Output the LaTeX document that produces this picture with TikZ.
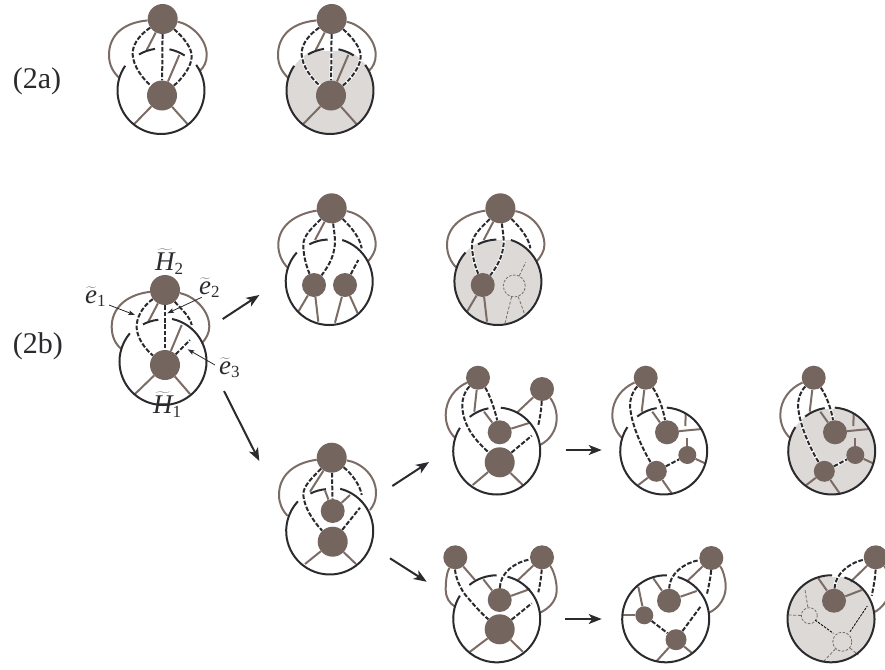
\documentclass[tikz,border=0pt]{standalone}
\usepackage{fontspec}
\setmainfont{Liberation Serif}
\usetikzlibrary{arrows.meta}
\definecolor{blobc}{HTML}{75655F}
\definecolor{grayc}{HTML}{7B6C66}
\definecolor{inkc}{HTML}{2B2A2E}
\definecolor{shadec}{HTML}{DDD9D6}
\tikzset{
  blobL/.style={circle,fill=blobc,draw=none,inner sep=0pt,minimum size=30pt},
  blobM/.style={circle,fill=blobc,draw=none,inner sep=0pt,minimum size=24pt},
  blobN/.style={circle,fill=blobc,draw=none,inner sep=0pt,minimum size=21pt},
  blobS/.style={circle,fill=blobc,draw=none,inner sep=0pt,minimum size=18pt},
  ghost/.style={circle,draw=grayc,line width=0.8pt,dash pattern=on 2.5pt off 1.5pt,inner sep=0pt},
  grayl/.style={draw=grayc,line width=2pt},
  inkl/.style={draw=inkc,line width=2pt},
  dashl/.style={draw=inkc,line width=2pt,dash pattern=on 4.6pt off 1.8pt,
    preaction={draw=white,line width=3.2pt,solid}},
  thinblack/.style={draw=black,line width=0.8pt,dash pattern=on 2.5pt off 1.2pt},
  thingray/.style={draw=grayc,line width=0.8pt,dash pattern=on 3pt off 1.8pt},
  bigarrow/.style={draw=inkc,line width=2pt,-{Stealth[length=13pt,width=10pt,inset=3.5pt]}},
  smallarrow/.style={draw=inkc,line width=0.8pt,-{Stealth[length=6.5pt,width=4.5pt,inset=1pt]}},
  lab/.style={anchor=base west,inner sep=0pt,text=inkc},
}
\newcommand{\Xgto}[2]{\coordinate (fe) at (#2); \draw[grayl] (#1) -- (fe);}
\newcommand{\Xgfree}[2]{\coordinate (fa) at (#1); \coordinate (fe) at (#2); \draw[grayl] (fa) -- (fe);}
\newcommand{\Xdto}[2]{\coordinate (fe) at (#2); \draw[dashl] (#1) -- (fe);}
\newcommand{\Xtg}[2]{\coordinate (fe) at (#2); \draw[thingray] (#1) -- (fe);}
\newcommand{\Xtb}[2]{\coordinate (fa) at (#1); \coordinate (fe) at (#2); \draw[thinblack] (fa) -- (fe);}
\newcommand{\Xarc}[4]{\draw[inkl] (#1,#2) ++(#3:43.5) arc[start angle=#3,end angle=#4,radius=43.5];}
\newcommand{\Xdisk}[3]{\begin{scope}\clip (#1-50,#3) rectangle (#1+50,#2+50);
  \fill[shadec] (#1,#2) circle[radius=43.5];\end{scope}}
\newcommand{\Xarrow}[3]{\coordinate (#1a) at (#2); \coordinate (#1b) at (#3); \draw[bigarrow] (#1a) -- (#1b);}
\newcommand{\Xsmall}[3]{\coordinate (#1a) at (#2); \coordinate (#1b) at (#3); \draw[smallarrow] (#1a) -- (#1b);}
\newcommand{\Xtl}[1]{$\widetilde{\hbox{\itshape #1}}$}
\newcommand{\Xsz}[1]{\fontsize{#1}{#1}\selectfont}
\newcommand{\figA}[2]{\begin{scope}[xshift=#2pt]
  \node[blobL] (#1t) at (162.7,19) {};
  \node[blobL] (#1b) at (162,95.5) {};
  \draw[grayl] (#1t) .. controls (120,23) and (109,38) .. (109,55) .. controls (109,65) and (113,72) .. (119.3,78);
  \draw[grayl] (#1t) .. controls (190,24) and (206.7,38) .. (206.7,55) .. controls (206.7,62) and (204,67) .. (200,70.7);
  \Xgto{#1t}{146.7,50}
  \Xgto{#1b}{179.3,55}
  \Xgto{#1b}{133.3,125}
  \Xgto{#1b}{188.3,125}
  \draw[dashl] (#1t) .. controls (138,36) and (132,46) .. (132.7,55) .. controls (133.5,66) and (142,78) .. (#1b);
  \draw[dashl] (#1t) .. controls (184,38) and (192,48) .. (191.7,56.7) .. controls (191.5,66) and (183,78) .. (#1b);
  \draw[dashl] (#1t) -- (#1b);
  \Xarc{161}{90.5}{-36}{214.6}
  \Xarc{161}{92}{-120.4}{-98}
  \Xarc{161}{92}{-78.8}{-57}
\end{scope}}
\newcommand{\figB}[2]{\begin{scope}[xshift=#2pt]
  \node[blobL] (#1t) at (331.7,208.3) {};
  \node[blobM] (#1l) at (314,285) {};
  \draw[grayl] (#1t) .. controls (295,214) and (278.3,226) .. (278.3,245) .. controls (278.3,254) and (282,262) .. (287.7,267.7);
  \draw[grayl] (#1t) .. controls (362,214) and (375.7,228) .. (375.7,245) .. controls (375.7,251) and (372,257) .. (367.7,261.7);
  \Xgto{#1t}{315,240}
  \Xgto{#1l}{298.3,311.7}
  \Xgto{#1l}{318.3,321.7}
  \draw[dashl] (#1t) .. controls (312,228) and (303,236) .. (303.3,245) .. controls (303.5,256) and (306,265) .. (#1l);
  \draw[dashl] (#1t) .. controls (334,232) and (336,240) .. (334.3,248.3) .. controls (333,258) and (328,267) .. (#1l);
  \draw[dashl] (#1t) .. controls (352,228) and (360,238) .. (361.7,248.3);
  \Xarc{329.2}{281.5}{-72.6}{221.8}
  \Xarc{329.2}{283}{-117.2}{-92}
\end{scope}}
\newcommand{\figC}[2]{\begin{scope}[xshift=#2pt]
  \node[blobM] (#1t) at (645.7,377.7) {};
  \node[blobM] (#1m) at (667,432.3) {};
  \node[blobN] (#1o) at (656.3,471.3) {};
  \node[blobS] (#1r) at (687.3,455) {};
  \draw[grayl] (#1t) .. controls (622,388) and (612.3,400) .. (612.3,415) .. controls (612.3,424) and (616,432) .. (621.7,437.7);
  \Xgto{#1t}{641.7,411.7}
  \Xgto{#1m}{652.3,411.7}
  \Xgto{#1m}{701.7,429}
  \Xgfree{685.7,414}{685.3,426}
  \Xgto{#1r}{687.3,438.3}
  \Xgto{#1r}{705,463.3}
  \Xgto{#1o}{638.3,485}
  \Xgto{#1o}{672.3,494.3}
  \draw[dashl] (#1t) .. controls (632,392) and (628.5,402) .. (630.7,411.7) .. controls (633,428) and (643,450) .. (#1o);
  \draw[dashl] (#1t) .. controls (658,395) and (663,408) .. (#1m);
  \draw[dashl] (#1o) -- (#1r);
  \Xarc{663.7}{451}{-86}{213.4}
  \Xarc{663.7}{451}{-127.6}{-99.3}
\end{scope}}
\begin{document}
\begin{tikzpicture}[x=1pt,y=-1pt]
\useasboundingbox (0,0) rectangle (885,669);
\figA{aa}{0}
\Xdisk{330.3}{90.5}{51.5}
\figA{ab}{169}
\node[lab] (t2a) at (12.7,88) {\Xsz{30}(2a)};
\node[lab] (t2b) at (12.7,353) {\Xsz{30}(2b)};
\node[blobL] (ct) at (165,290) {};
\node[blobL] (cb) at (165,365) {};
\draw[grayl] (ct) .. controls (124,295) and (111.7,310) .. (111.7,326.7) .. controls (111.7,336) and (115,344) .. (121.7,349.3);
\draw[grayl] (ct) .. controls (194,296) and (209.3,310) .. (209.3,326.7) .. controls (209.3,333) and (206,339) .. (201.7,343.3);
\Xgto{ct}{148.3,321.7}
\Xgto{cb}{181.7,325}
\Xgto{cb}{135,394}
\Xgto{cb}{190,394}
\draw[dashl] (ct) .. controls (142,307) and (136,318) .. (136.7,328.3) .. controls (137.5,339) and (146,350) .. (cb);
\draw[dashl] (ct) .. controls (180,308) and (190,316) .. (191.7,325);
\Xdto{cb}{190,340}
\draw[dashl] (ct) -- (cb);
\Xarc{163}{361.5}{-78}{220.4}
\Xarc{163}{363}{-117.4}{-96.2}
\node[lab] (H2) at (155,270) {\Xsz{27}\Xtl{H}\hbox{\Xsz{17}\raisebox{-4pt}{2}}};
\node[lab] (H1) at (153,413) {\Xsz{27}\Xtl{H}\hbox{\Xsz{17}\raisebox{-4pt}{1}}};
\node[lab] (e1) at (85,303) {\Xsz{27}\Xtl{e}\hbox{\Xsz{17}\raisebox{-3pt}{1}}};
\node[lab] (e2) at (199,294) {\Xsz{27}\Xtl{e}\hbox{\Xsz{17}\raisebox{-3pt}{2}}};
\node[lab] (e3) at (219,374) {\Xsz{27}\Xtl{e}\hbox{\Xsz{17}\raisebox{-3pt}{3}}};
\Xsmall{s1}{109,305}{135,315}
\Xsmall{s2}{201.7,297.3}{167.3,313.3}
\Xsmall{s3}{215,365}{187.7,349.3}
\Xarrow{A}{222.7,319}{259.3,295}
\Xarrow{B}{224,391}{259.3,461}
\Xarrow{C}{392.3,486}{429,462}
\Xarrow{D}{390,558.3}{426.7,581.7}
\Xarrow{E}{565.7,450}{601.7,450}
\Xarrow{F}{565,619}{601.7,619}
\figB{ba}{0}
\node[blobM] (bar) at (345,285) {};
\Xgto{bar}{335,322.7}
\Xgto{bar}{357.7,313.3}
\Xdto{bar}{358.3,260}
\Xdisk{497.9}{281.5}{240.5}
\figB{bb}{168.7}
\node[ghost,minimum size=22pt] (bbg) at (514.3,286) {};
\Xtg{bbg}{525.7,262.3}
\Xtg{bbg}{505,323.3}
\Xtg{bbg}{524.3,313.3}
\node[blobL] (dt) at (331.7,457.7) {};
\node[blobM] (dm) at (332.7,511) {};
\node[blobL] (db) at (332.7,541.7) {};
\draw[grayl] (dt) .. controls (293,463) and (279,476) .. (279,495) .. controls (279,503) and (282,510) .. (287.7,516);
\draw[grayl] (dt) .. controls (362,463) and (376,476) .. (376,493) .. controls (376,500) and (374,505) .. (370,510);
\Xgto{dt}{310,491.7}
\Xgto{dm}{325,490.5}
\Xgto{dm}{350,495}
\Xgto{db}{305,564}
\Xgto{db}{356,564}
\draw[dashl] (dt) .. controls (312,478) and (303,486) .. (303.3,495) .. controls (304,506) and (312,520) .. (db);
\draw[dashl] (dt) .. controls (352,474) and (360,485) .. (361.7,495);
\Xdto{db}{360,507.7}
\draw[dashl] (dt) -- (dm);
\Xarc{329.7}{531}{-76}{223}
\Xarc{329.7}{532.5}{-116.3}{-95}
\node[blobM] (et) at (478,377.7) {};
\node[blobM] (er) at (542,389) {};
\node[blobM] (em) at (499.7,432.3) {};
\node[blobL] (eb) at (499.7,462.3) {};
\draw[grayl] (et) .. controls (455,388) and (445.7,400) .. (445.7,415) .. controls (445.7,424) and (449,432) .. (455,437.7);
\draw[grayl] (er) .. controls (552,400) and (556.7,408) .. (556.7,418.3) .. controls (556.7,430) and (550,440) .. (540,445);
\Xgto{et}{474.3,411.7}
\Xgto{em}{484,411.7}
\Xgto{er}{517.3,412.3}
\Xgto{em}{530,422.7}
\Xgto{eb}{472.7,485}
\Xgto{eb}{522.7,485}
\draw[dashl] (et) .. controls (464,392) and (461,402) .. (462.7,411) .. controls (465,428) and (476,441) .. (eb);
\draw[dashl] (et) .. controls (489,393) and (495,410) .. (em);
\draw[dashl] (er) .. controls (541.5,408) and (540,418) .. (538.3,425);
\Xdto{eb}{531.7,435.7}
\Xarc{496.7}{451}{-84.6}{212.2}
\Xarc{496.7}{451}{-128.4}{-101}
\figC{fa}{0}
\Xdisk{831.7}{451}{409}
\figC{fb}{168}
\node[blobM] (gl) at (455.3,557.3) {};
\node[blobM] (gr) at (542,557.3) {};
\node[blobM] (gm) at (499.7,600) {};
\node[blobL] (gb) at (499.7,629.3) {};
\draw[grayl] (gl) .. controls (447,572) and (445.7,580) .. (445.7,590) .. controls (445.7,597) and (449,603) .. (455,606.7);
\draw[grayl] (gr) .. controls (552,568) and (556.7,578) .. (556.7,590) .. controls (556.7,600) and (550,608) .. (540,612.7);
\Xgto{gl}{475,580}
\Xgto{gm}{483.3,579.3}
\Xgto{gr}{517.3,580.7}
\Xgto{gm}{530,589}
\Xgto{gb}{470,651.7}
\Xgto{gb}{522.7,651.7}
\draw[dashl] (gl) .. controls (455,575) and (460,590) .. (468,598) .. controls (474,605) and (480,612) .. (gb);
\draw[dashl] (gm) .. controls (500,573) and (515,562) .. (gr);
\draw[dashl] (gr) .. controls (541.5,575) and (540,585) .. (538.3,592.3);
\Xdto{gb}{531.7,603.3}
\Xarc{496.7}{618.8}{-75.7}{212.2}
\Xarc{496.7}{618.8}{-128.9}{-90}
\node[blobM] (hr) at (711.3,558) {};
\node[blobM] (hm) at (669,600.7) {};
\node[blobS] (hl) at (644.3,615.3) {};
\node[blobN] (ho) at (676,639.7) {};
\draw[grayl] (hr) .. controls (722,568) and (725.7,578) .. (725.7,586.7) .. controls (725.7,598) and (719,608) .. (709,612.7);
\Xgto{hl}{638.3,586.7}
\Xgto{hl}{622.3,615.3}
\Xgto{hm}{653.3,578.3}
\Xgto{hm}{696.7,591}
\Xgto{hr}{686.7,581.7}
\Xgto{ho}{656.7,661}
\Xgto{ho}{692.3,653.3}
\draw[dashl] (hm) .. controls (669.3,573.7) and (684.3,562.7) .. (hr);
\draw[dashl] (hr) .. controls (711,575) and (709,585) .. (706.7,595);
\Xdto{ho}{701,606}
\draw[dashl] (hl) -- (ho);
\Xarc{665.7}{618.8}{-74}{271.4}
\Xdisk{831}{618.8}{577}
\node[blobM] (ir) at (875.7,557.3) {};
\node[blobM] (im) at (834,600.7) {};
\node[ghost,minimum size=16pt] (ig) at (809.3,615.7) {};
\node[ghost,minimum size=19pt] (ih) at (842.3,641.7) {};
\draw[grayl] (ir) .. controls (886,568) and (890,578) .. (890,586.7) .. controls (890,598) and (883,608) .. (873.3,612.7);
\Xgto{im}{818.3,578.3}
\Xgto{im}{861.7,590}
\Xgto{ir}{850.7,581.7}
\draw[dashl] (im) .. controls (835,575) and (848,563) .. (ir);
\draw[dashl] (ir) .. controls (875.5,575) and (874,585) .. (871.7,595.7);
\Xtb{815,620}{833.3,633.3}
\Xtb{850,631.7}{867.3,606}
\Xtg{ig}{805,590}
\Xtg{ig}{788.3,615}
\Xtg{ih}{823.3,661.7}
\Xtg{ih}{858.3,655}
\Xarc{831}{618.8}{-72}{271.4}
\end{tikzpicture}
\end{document}
